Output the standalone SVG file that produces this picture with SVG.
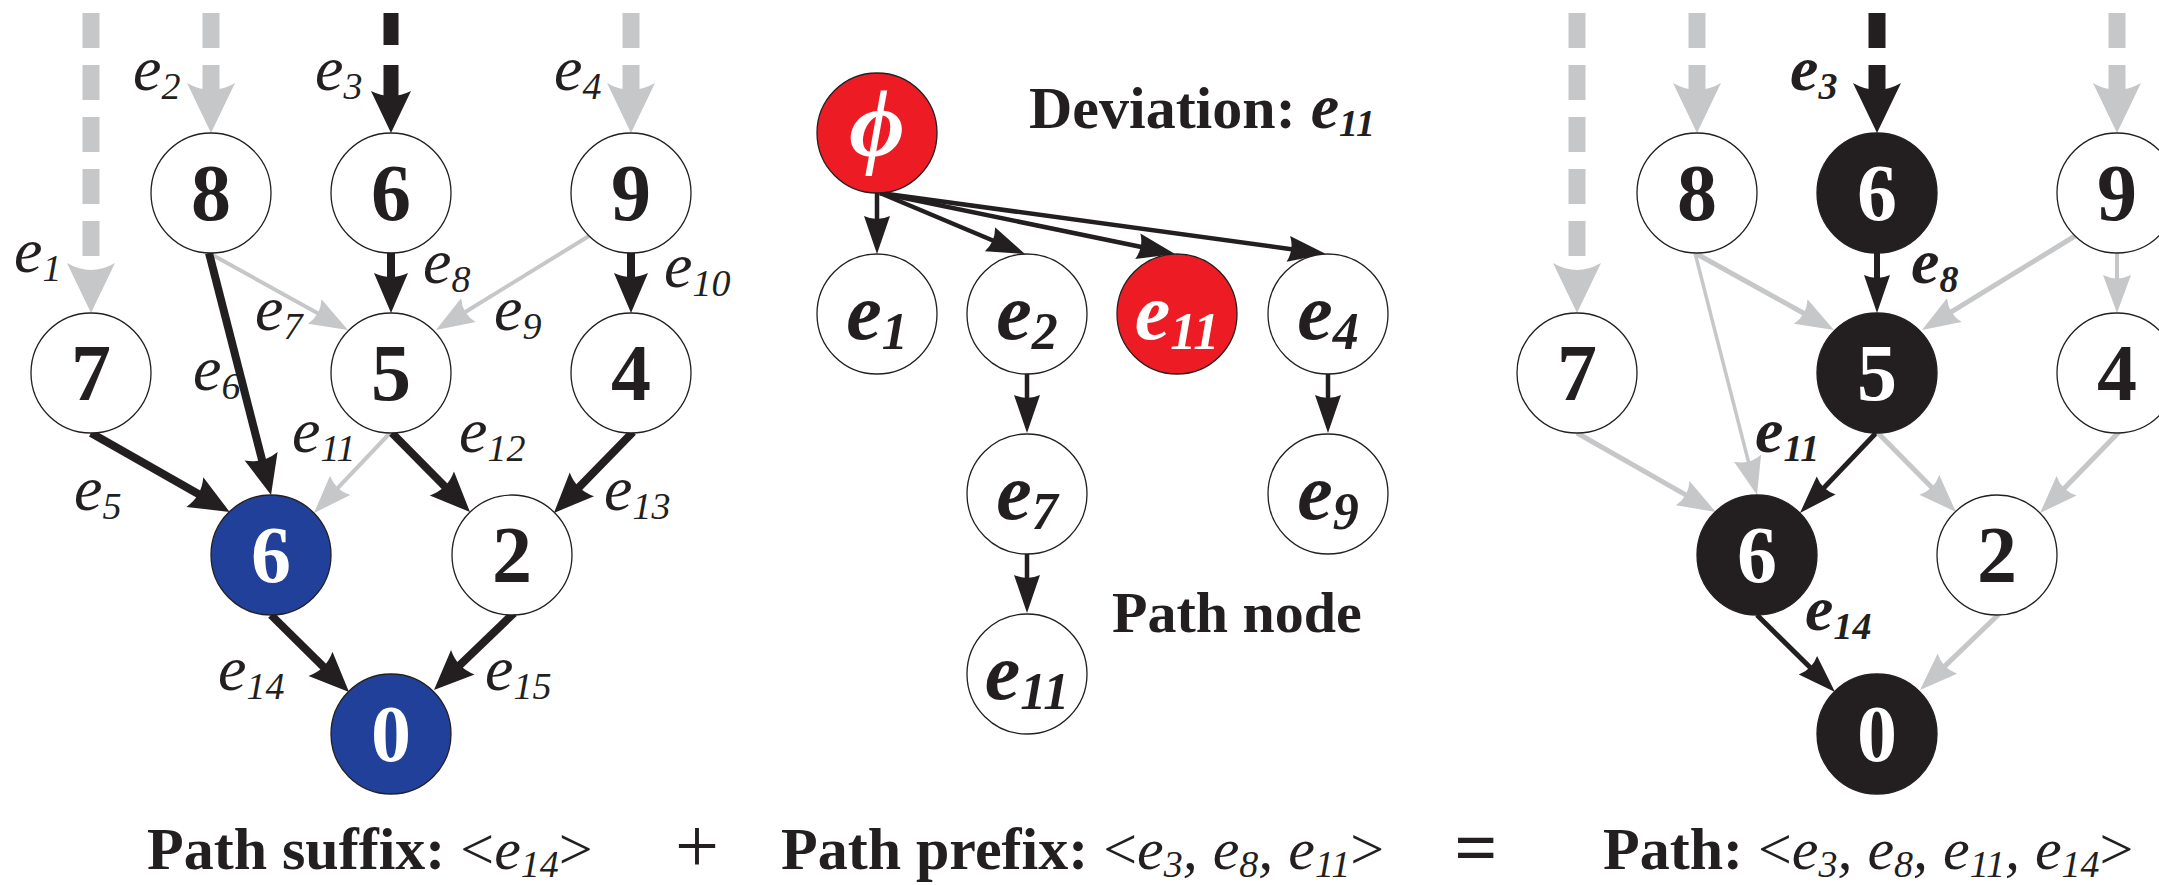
<svg xmlns="http://www.w3.org/2000/svg" width="2159" height="885" viewBox="0 0 2159 885">
<style>
  .nd{stroke:#231f20;stroke-width:1.3}
  .w{fill:#ffffff}
  .k{fill:#231f20}
  .b{fill:#21409a}
  .r{fill:#ed1c24}
  .num{font-family:"Liberation Serif","Times New Roman",serif;font-weight:bold;font-size:80px;text-anchor:middle}
  .ml{font-family:"Liberation Serif","Times New Roman",serif;font-weight:bold;font-style:italic;font-size:80px;text-anchor:middle}
  .ml .s{font-size:52px}
  .tw{fill:#ffffff}
  .tk{fill:#231f20}
  .el{font-family:"Liberation Serif","Times New Roman",serif;font-style:italic;font-size:64px;fill:#231f20}
  .elb{font-family:"Liberation Serif","Times New Roman",serif;font-style:italic;font-weight:bold;font-size:64px;fill:#231f20}
  .s{font-size:38px}
  .cap{font-family:"Liberation Serif","Times New Roman",serif;font-weight:bold;font-size:60px;fill:#231f20}
  .rg{font-weight:normal;font-style:normal}
  .it{font-weight:normal;font-style:italic}
  .cs{font-size:38px}
  .gd{stroke:#c6c7c9;stroke-width:17;stroke-dasharray:35 17;fill:none}
  .kd{stroke:#231f20;stroke-width:15;stroke-dasharray:32 20;fill:none}
  .kd2{stroke:#231f20;stroke-width:17;stroke-dasharray:35 17;fill:none}
  .k8{stroke:#231f20;stroke-width:8;fill:none}
  .k5{stroke:#231f20;stroke-width:5;fill:none}
  .k45{stroke:#231f20;stroke-width:4.5;fill:none}
  .g4{stroke:#c6c7c9;stroke-width:4;fill:none}
  .g5{stroke:#c6c7c9;stroke-width:5;fill:none}
</style>
<defs>
  <marker id="mGB" markerUnits="userSpaceOnUse" orient="auto" refX="10" refY="0" markerWidth="60" markerHeight="60" viewBox="0 -30 60 60" overflow="visible">
    <path d="M0,-24 L50,0 L0,24 Q14,0 0,-24 Z" fill="#c6c7c9"/>
  </marker>
  <marker id="mBB" markerUnits="userSpaceOnUse" orient="auto" refX="10" refY="0" markerWidth="60" markerHeight="60" viewBox="0 -30 60 60" overflow="visible">
    <path d="M0,-24 L50,0 L0,24 Q14,0 0,-24 Z" fill="#231f20"/>
  </marker>
  <marker id="mBM" markerUnits="userSpaceOnUse" orient="auto" refX="8" refY="0" markerWidth="50" markerHeight="50" viewBox="0 -25 50 50" overflow="visible">
    <path d="M0,-20 L42,0 L0,20 Q10,0 0,-20 Z" fill="#231f20"/>
  </marker>
  <marker id="mBT" markerUnits="userSpaceOnUse" orient="auto" refX="6" refY="0" markerWidth="50" markerHeight="50" viewBox="0 -25 50 50" overflow="visible">
    <path d="M0,-17 L40,0 L0,17 Q8,0 0,-17 Z" fill="#231f20"/>
  </marker>
  <marker id="mGT" markerUnits="userSpaceOnUse" orient="auto" refX="5" refY="0" markerWidth="50" markerHeight="50" viewBox="0 -25 50 50" overflow="visible">
    <path d="M0,-14 L38,0 L0,14 Q7,0 0,-14 Z" fill="#c6c7c9"/>
  </marker>
  <marker id="mKT" markerUnits="userSpaceOnUse" orient="auto" refX="5" refY="0" markerWidth="50" markerHeight="50" viewBox="0 -25 50 50" overflow="visible">
    <path d="M0,-13 L38,0 L0,13 Q6,0 0,-13 Z" fill="#231f20"/>
  </marker>
</defs>
<rect width="2159" height="885" fill="#ffffff"/>

<g id="connectors">
  <!-- left graph -->
  <line class="gd" x1="91" y1="13" x2="91" y2="273" marker-end="url(#mGB)"/>
  <line class="gd" x1="211" y1="13" x2="211" y2="93" marker-end="url(#mGB)"/>
  <line class="kd" x1="391" y1="13" x2="391" y2="99" marker-end="url(#mBM)"/>
  <line class="gd" x1="631" y1="13" x2="631" y2="93" marker-end="url(#mGB)"/>
  <line class="k8" x1="391" y1="253" x2="391" y2="279" marker-end="url(#mBT)"/>
  <line class="k8" x1="631" y1="253" x2="631" y2="279" marker-end="url(#mBT)"/>
  <line class="g4" x1="209" y1="253" x2="319.1" y2="314" marker-end="url(#mGT)"/>
  <line class="g4" x1="589" y1="236" x2="464.1" y2="312.7" marker-end="url(#mGT)"/>
  <line class="k8" x1="209" y1="253" x2="262.6" y2="462.1" marker-end="url(#mBT)"/>
  <line class="k8" x1="91" y1="433" x2="200.1" y2="495.1" marker-end="url(#mBT)"/>
  <line class="g4" x1="390" y1="433" x2="336.7" y2="489.1" marker-end="url(#mGT)"/>
  <line class="k8" x1="392" y1="433" x2="446.1" y2="487.8" marker-end="url(#mBT)"/>
  <line class="k8" x1="633" y1="432" x2="577.7" y2="488.6" marker-end="url(#mBT)"/>
  <line class="k8" x1="271" y1="615" x2="324.8" y2="668.1" marker-end="url(#mBT)"/>
  <line class="k8" x1="514" y1="613" x2="458.5" y2="666.4" marker-end="url(#mBT)"/>
  <!-- middle tree -->
  <line class="k45" x1="877" y1="193" x2="877" y2="221" marker-end="url(#mKT)"/>
  <line class="k45" x1="880" y1="193" x2="994.6" y2="241.2" marker-end="url(#mKT)"/>
  <line class="k45" x1="880" y1="193" x2="1142.7" y2="247.3" marker-end="url(#mKT)"/>
  <line class="k45" x1="880" y1="193" x2="1293.3" y2="249.5" marker-end="url(#mKT)"/>
  <line class="k45" x1="1027" y1="374" x2="1027" y2="400" marker-end="url(#mKT)"/>
  <line class="k45" x1="1328" y1="374" x2="1328" y2="400" marker-end="url(#mKT)"/>
  <line class="k45" x1="1027" y1="554" x2="1027" y2="580" marker-end="url(#mKT)"/>
  <!-- right graph -->
  <line class="gd" x1="1577" y1="13" x2="1577" y2="273" marker-end="url(#mGB)"/>
  <line class="gd" x1="1697" y1="13" x2="1697" y2="93" marker-end="url(#mGB)"/>
  <line class="kd2" x1="1877" y1="13" x2="1877" y2="93" marker-end="url(#mBB)"/>
  <line class="gd" x1="2117" y1="13" x2="2117" y2="93" marker-end="url(#mGB)"/>
  <line class="k5" x1="1877" y1="253" x2="1877" y2="280" style="stroke-width:6" marker-end="url(#mKT)"/>
  <line class="g4" x1="2117" y1="253" x2="2117" y2="280" marker-end="url(#mGT)"/>
  <line class="g5" x1="1695" y1="253" x2="1805.1" y2="314" marker-end="url(#mGT)"/>
  <line class="g5" x1="2075" y1="236" x2="1950.1" y2="312.7" marker-end="url(#mGT)"/>
  <line class="g4" x1="1695" y1="253" x2="1748.8" y2="463" style="stroke-width:3.5" marker-end="url(#mGT)"/>
  <line class="g5" x1="1577" y1="433" x2="1687" y2="495.6" marker-end="url(#mGT)"/>
  <line class="k5" x1="1876" y1="433" x2="1822.7" y2="489.1" marker-end="url(#mKT)"/>
  <line class="g5" x1="1878" y1="433" x2="1932.8" y2="488.5" marker-end="url(#mGT)"/>
  <line class="g5" x1="2119" y1="432" x2="2063.1" y2="489.4" marker-end="url(#mGT)"/>
  <line class="k5" x1="1757" y1="615" x2="1811.5" y2="668.8" marker-end="url(#mKT)"/>
  <line class="g5" x1="2000" y1="613" x2="1943.8" y2="667.1" marker-end="url(#mGT)"/>
</g>

<g id="edge-labels-left">
  <text class="el" x="14" y="272">e<tspan class="s" dy="9">1</tspan></text>
  <text class="el" x="133" y="90">e<tspan class="s" dy="9">2</tspan></text>
  <text class="el" x="315" y="90">e<tspan class="s" dy="9">3</tspan></text>
  <text class="el" x="554" y="90">e<tspan class="s" dy="9">4</tspan></text>
  <text class="el" x="423" y="283">e<tspan class="s" dy="9">8</tspan></text>
  <text class="el" x="664" y="287">e<tspan class="s" dy="9">10</tspan></text>
  <text class="el" x="255" y="330">e<tspan class="s" dy="9">7</tspan></text>
  <text class="el" x="494" y="330">e<tspan class="s" dy="9">9</tspan></text>
  <text class="el" x="193" y="390">e<tspan class="s" dy="9">6</tspan></text>
  <text class="el" x="292" y="452">e<tspan class="s" dy="9">11</tspan></text>
  <text class="el" x="459" y="452">e<tspan class="s" dy="9">12</tspan></text>
  <text class="el" x="74" y="510">e<tspan class="s" dy="9">5</tspan></text>
  <text class="el" x="604" y="510">e<tspan class="s" dy="9">13</tspan></text>
  <text class="el" x="218" y="690">e<tspan class="s" dy="9">14</tspan></text>
  <text class="el" x="485" y="690">e<tspan class="s" dy="9">15</tspan></text>
</g>
<g id="edge-labels-right">
  <text class="elb" x="1790" y="90">e<tspan class="s" dy="9">3</tspan></text>
  <text class="elb" x="1911" y="283">e<tspan class="s" dy="9">8</tspan></text>
  <text class="elb" x="1755" y="452">e<tspan class="s" dy="9">11</tspan></text>
  <text class="elb" x="1805" y="630">e<tspan class="s" dy="9">14</tspan></text>
</g>

<!-- left graph nodes -->
<g id="L8"><circle class="nd w" cx="211" cy="193" r="60"/><text class="num tk" x="211" y="220">8</text></g>
<g id="L6a"><circle class="nd w" cx="391" cy="193" r="60"/><text class="num tk" x="391" y="220">6</text></g>
<g id="L9"><circle class="nd w" cx="631" cy="193" r="60"/><text class="num tk" x="631" y="220">9</text></g>
<g id="L7"><circle class="nd w" cx="91" cy="373" r="60"/><text class="num tk" x="91" y="400">7</text></g>
<g id="L5"><circle class="nd w" cx="391" cy="373" r="60"/><text class="num tk" x="391" y="400">5</text></g>
<g id="L4"><circle class="nd w" cx="631" cy="373" r="60"/><text class="num tk" x="631" y="400">4</text></g>
<g id="L6b"><circle class="nd b" cx="271" cy="555" r="60"/><text class="num tw" x="271" y="582">6</text></g>
<g id="L2"><circle class="nd w" cx="512" cy="555" r="60"/><text class="num tk" x="512" y="582">2</text></g>
<g id="L0"><circle class="nd b" cx="391" cy="734" r="60"/><text class="num tw" x="391" y="761">0</text></g>

<!-- middle tree nodes -->
<g id="Mphi"><circle class="nd r" cx="877" cy="133" r="60"/><text x="877" y="156" style="font-family:'Liberation Serif','Times New Roman',serif;font-style:italic;font-weight:bold;font-size:96px;text-anchor:middle;fill:#ffffff">ϕ</text></g>
<g id="Me1"><circle class="nd w" cx="877" cy="314" r="60"/><text class="ml tk" x="877" y="339">e<tspan class="s" dy="10">1</tspan></text></g>
<g id="Me2"><circle class="nd w" cx="1027" cy="314" r="60"/><text class="ml tk" x="1027" y="339">e<tspan class="s" dy="10">2</tspan></text></g>
<g id="Me11a"><circle class="nd r" cx="1177" cy="314" r="60"/><text class="ml tw" x="1177" y="339">e<tspan class="s" dy="10">11</tspan></text></g>
<g id="Me4"><circle class="nd w" cx="1328" cy="314" r="60"/><text class="ml tk" x="1328" y="339">e<tspan class="s" dy="10">4</tspan></text></g>
<g id="Me7"><circle class="nd w" cx="1027" cy="494" r="60"/><text class="ml tk" x="1027" y="519">e<tspan class="s" dy="10">7</tspan></text></g>
<g id="Me9"><circle class="nd w" cx="1328" cy="494" r="60"/><text class="ml tk" x="1328" y="519">e<tspan class="s" dy="10">9</tspan></text></g>
<g id="Me11b"><circle class="nd w" cx="1027" cy="674" r="60"/><text class="ml tk" x="1027" y="699">e<tspan class="s" dy="10">11</tspan></text></g>

<!-- right graph nodes -->
<g id="R8"><circle class="nd w" cx="1697" cy="193" r="60"/><text class="num tk" x="1697" y="220">8</text></g>
<g id="R6a"><circle class="nd k" cx="1877" cy="193" r="60"/><text class="num tw" x="1877" y="220">6</text></g>
<g id="R9"><circle class="nd w" cx="2117" cy="193" r="60"/><text class="num tk" x="2117" y="220">9</text></g>
<g id="R7"><circle class="nd w" cx="1577" cy="373" r="60"/><text class="num tk" x="1577" y="400">7</text></g>
<g id="R5"><circle class="nd k" cx="1877" cy="373" r="60"/><text class="num tw" x="1877" y="400">5</text></g>
<g id="R4"><circle class="nd w" cx="2117" cy="373" r="60"/><text class="num tk" x="2117" y="400">4</text></g>
<g id="R6b"><circle class="nd k" cx="1757" cy="555" r="60"/><text class="num tw" x="1757" y="582">6</text></g>
<g id="R2"><circle class="nd w" cx="1997" cy="555" r="60"/><text class="num tk" x="1997" y="582">2</text></g>
<g id="R0"><circle class="nd k" cx="1877" cy="734" r="60"/><text class="num tw" x="1877" y="761">0</text></g>

<g id="captions">
  <text class="cap" x="1029" y="128">Deviation: <tspan style="font-style:italic;font-size:64px">e</tspan><tspan style="font-style:italic" class="s" dy="8">11</tspan></text>
  <text class="cap" x="1112" y="632" style="font-size:58px">Path node</text>
  <text class="cap" x="147" y="869">Path suffix: <tspan class="rg">&lt;</tspan><tspan class="it">e</tspan><tspan class="it cs" dy="8">14</tspan><tspan class="rg" dy="-8">&gt;</tspan></text>
  <text x="697" y="872" text-anchor="middle" style="font-family:'Liberation Serif','Times New Roman',serif;font-size:78px;fill:#231f20">+</text>
  <text class="cap" x="781" y="869">Path prefix: <tspan class="rg">&lt;</tspan><tspan class="it">e</tspan><tspan class="it cs" dy="8">3</tspan><tspan class="it" dy="-8">, e</tspan><tspan class="it cs" dy="8">8</tspan><tspan class="it" dy="-8">, e</tspan><tspan class="it cs" dy="8">11</tspan><tspan class="rg" dy="-8">&gt;</tspan></text>
  <text class="cap" x="1476" y="873" text-anchor="middle" style="font-size:76px">=</text>
  <text class="cap" x="1603" y="869">Path: <tspan class="rg">&lt;</tspan><tspan class="it">e</tspan><tspan class="it cs" dy="8">3</tspan><tspan class="it" dy="-8">, e</tspan><tspan class="it cs" dy="8">8</tspan><tspan class="it" dy="-8">, e</tspan><tspan class="it cs" dy="8">11</tspan><tspan class="it" dy="-8">, e</tspan><tspan class="it cs" dy="8">14</tspan><tspan class="rg" dy="-8">&gt;</tspan></text>
</g>
</svg>
